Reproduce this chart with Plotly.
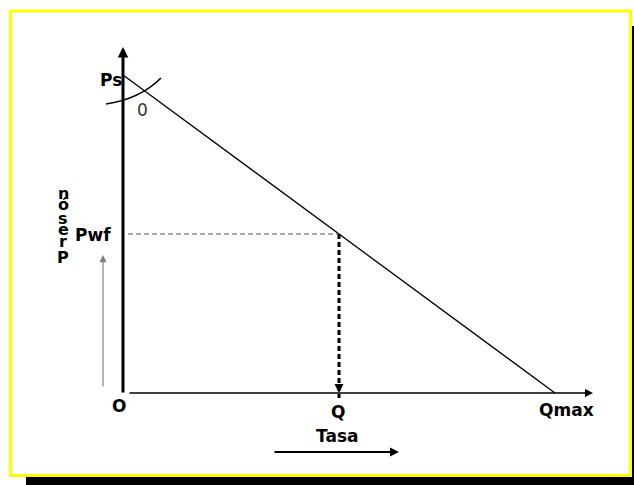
import plotly.graph_objects as go

# ---- data (IPR straight line) ----
ps = 100.0      # static pressure (intercept on pressure axis)
qmax = 100.0    # maximum rate (intercept on rate axis)
pwf = 50.0      # flowing bottom-hole pressure
q = 50.0        # rate at pwf
ipr_q = [0.0, qmax]
ipr_p = [ps, 0.0]
ylabel_letters = ["n", "ó", "s", "e", "r", "P"]

W, H = 634, 485
X0, Y0 = 123.0, 393.0          # pixel of origin
SX, SY = 4.32, 3.18            # pixels per unit


def dx(xp):
    return (xp - X0) / SX


def dy(yp):
    return (Y0 - yp) / SY


def paper_x(xp):
    return xp / W


def paper_y(yp):
    return 1 - yp / H


FONT = "DejaVu Sans"
fig = go.Figure()

# IPR line
fig.add_trace(go.Scatter(x=ipr_q, y=ipr_p, mode="lines",
                         line=dict(color="black", width=1.3),
                         hoverinfo="skip", showlegend=False))
# Pwf horizontal dashed
fig.add_trace(go.Scatter(x=[dx(128), q], y=[pwf, pwf], mode="lines",
                         line=dict(color="#555555", width=1, dash="5px,3px"),
                         hoverinfo="skip", showlegend=False))
# vertical dashed at Q
fig.add_trace(go.Scatter(x=[q, q], y=[pwf, dy(398)], mode="lines",
                         line=dict(color="black", width=3, dash="5px,3px"),
                         hoverinfo="skip", showlegend=False))

shapes = []
# shadow + frame
shapes.append(dict(type="rect", xref="paper", yref="paper",
                   x0=paper_x(26), x1=paper_x(660), y0=paper_y(26), y1=paper_y(500),
                   fillcolor="black", line=dict(width=0), layer="below"))
shapes.append(dict(type="rect", xref="paper", yref="paper",
                   x0=paper_x(10.5), x1=paper_x(630.5), y0=paper_y(11), y1=paper_y(475.5),
                   fillcolor="white", line=dict(color="#ffff00", width=3), layer="below"))
# hand-drawn arc near Ps
p0 = (paper_x(106), paper_y(104))
pc = (paper_x(140), paper_y(99))
p1 = (paper_x(161), paper_y(78))
shapes.append(dict(type="path", xref="paper", yref="paper",
                   path=f"M {p0[0]} {p0[1]} Q {pc[0]} {pc[1]} {p1[0]} {p1[1]}",
                   line=dict(color="black", width=1.6)))

annotations = []


def arrow(x, y, ax, ay, color="black", width=1.5, size=1.0, head=2):
    annotations.append(dict(x=x, y=y, ax=ax, ay=ay, xref="x", yref="y",
                            axref="x", ayref="y", text="", showarrow=True,
                            arrowhead=head, arrowsize=size, arrowwidth=width,
                            arrowcolor=color))


# y axis (thick) and x axis
arrow(0, dy(47), 0, dy(394), width=3, size=0.7)
arrow(dx(593), 0, dx(128), 0, width=1.6, size=1.0)
# arrowhead of dashed vertical
arrow(q, 0, q, dy(385), width=2, size=0.9)
# gray pressure arrow
arrow(dx(103), dy(255), dx(103), dy(388), color="#808080", width=1.2, size=1.2)
# Tasa arrow
arrow(dx(399), dy(452), dx(273), dy(452), width=2, size=0.9)


def label(text, xp, yp, size=17, bold=True, color="black"):
    annotations.append(dict(x=dx(xp), y=dy(yp), xref="x", yref="y", text=text,
                            showarrow=False, xanchor="center", yanchor="middle",
                            font=dict(family=FONT, size=size, color=color,
                                      weight="bold" if bold else "normal")))


label("Ps", 111, 80)
label("0", 142, 110, bold=False, color="#333333")
label("Pwf", 93, 235)
label("O", 119, 406)
label("Q", 338, 412)
label("Qmax", 566, 410)
label("Tasa", 337, 436)

ys = [193, 204, 218, 229, 241, 257]
for ch, yy in zip(ylabel_letters, ys):
    label(ch, 63, yy, size=16)

fig.update_layout(
    width=W, height=H, margin=dict(l=0, r=0, t=0, b=0),
    paper_bgcolor="white", plot_bgcolor="rgba(0,0,0,0)",
    xaxis=dict(range=[dx(0), dx(W)], visible=False, fixedrange=True),
    yaxis=dict(range=[dy(H), dy(0)], visible=False, fixedrange=True),
    shapes=shapes, annotations=annotations, showlegend=False,
)

fig.write_html("out.html", config={"displayModeBar": False},
               post_script="document.body.style.margin='0';"
                           "document.body.style.overflow='hidden';")
